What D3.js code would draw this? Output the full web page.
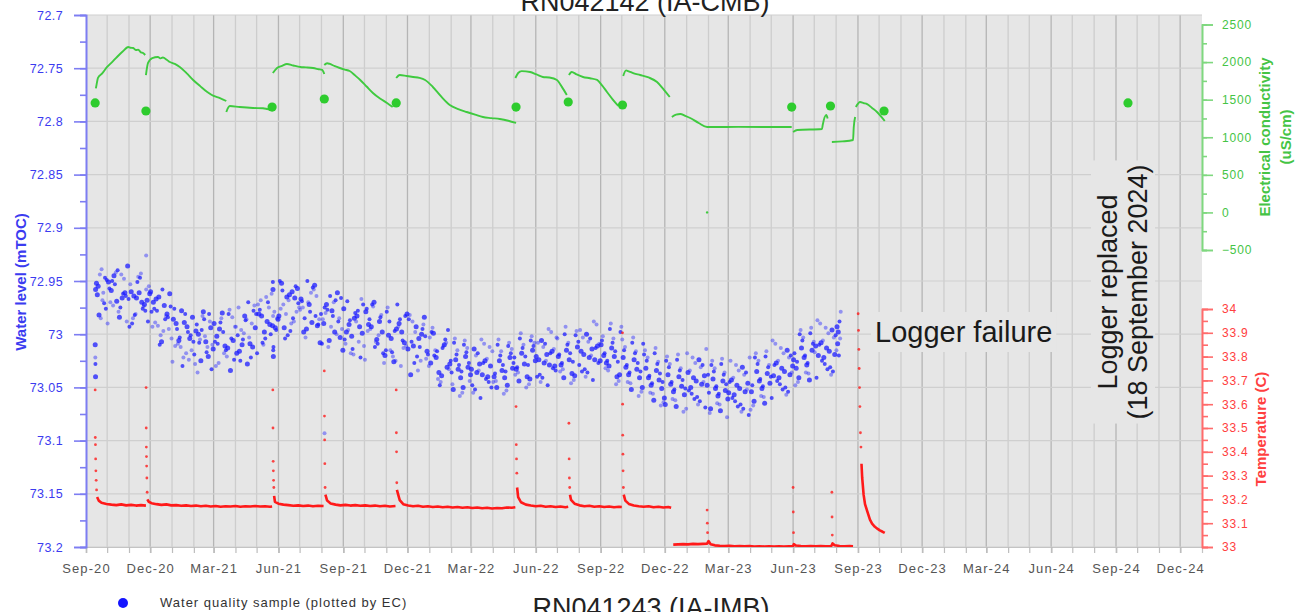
<!DOCTYPE html>
<html>
<head>
<meta charset="utf-8">
<script src="https://cdn.jsdelivr.net/npm/d3@7"></script>
<style>
  html, body { margin: 0; padding: 0; background: #ffffff; }
  svg { display: block; font-family: "Liberation Sans", Arial, Helvetica, sans-serif; }
</style>
</head>
<body>
<svg id="chart" width="1308" height="612"></svg>
<script>
// ---------------- Data ----------------
const xTickDates = ['2020-09','2020-12','2021-03','2021-06','2021-09','2021-12','2022-03','2022-06',
  '2022-09','2022-12','2023-03','2023-06','2023-09','2023-12','2024-03','2024-06','2024-09','2024-12'];
const levelTicks = [72.7, 72.75, 72.8, 72.85, 72.9, 72.95, 73, 73.05, 73.1, 73.15, 73.2];
const ecTicks = [-500, 0, 500, 1000, 1500, 2000, 2500];
const tempTicks = [33, 33.1, 33.2, 33.3, 33.4, 33.5, 33.6, 33.7, 33.8, 33.9, 34];

// Water level (mTOC), roughly daily logger readings grouped by month
const levelFirst = '2020-09-14';
const levelLast = '2023-08-08';
const levelMonths = ['2020-09','2020-10','2020-11','2020-12','2021-01','2021-02','2021-03','2021-04',
  '2021-05','2021-06','2021-07','2021-08','2021-09','2021-10','2021-11','2021-12','2022-01','2022-02',
  '2022-03','2022-04','2022-05','2022-06','2022-07','2022-08','2022-09','2022-10','2022-11','2022-12',
  '2023-01','2023-02','2023-03','2023-04','2023-05','2023-06','2023-07','2023-08'];
const levelReadings = [
  [72.958,72.944,72.971,72.952,72.985,72.947,72.963,72.939,72.976,72.955,72.968,72.949,72.982,72.961],
  [72.951,72.973,72.940,72.966,72.988,72.957,72.945,72.979,72.962,72.936,72.970,72.953,72.984,72.948,72.967,72.959,72.942,72.975,72.961,72.990,72.950,72.969,72.944,72.964],
  [72.960,72.981,72.947,72.972,72.955,72.990,72.966,72.943,72.978,72.962,72.985,72.951,72.970,72.958,72.993,72.964,72.946,72.976,72.968,72.953,72.982,72.961,72.974,72.988],
  [72.970,72.992,72.958,72.981,73.004,72.976,72.965,72.997,72.984,72.960,72.989,73.010,72.973,72.995,72.979,72.967,73.001,72.986,72.962,72.993,72.978,73.007,72.983,72.974],
  [72.990,73.012,72.981,73.004,73.026,72.995,72.978,73.018,73.001,72.986,73.009,73.030,72.993,73.015,72.976,73.006,73.022,72.998,72.984,73.011,73.003,72.989,73.024,73.007],
  [73.000,72.983,73.017,72.994,73.028,73.008,72.979,73.012,73.033,72.997,73.005,72.986,73.021,73.010,72.991,73.025,73.002,72.981,73.014,73.036,72.996,73.007,72.988,73.019],
  [72.995,73.018,72.981,73.006,73.030,72.989,73.011,72.977,73.024,73.002,72.985,73.015,73.034,72.993,73.009,72.980,73.021,73.004,72.990,73.027,72.998,73.013,72.984,73.007],
  [73.010,72.986,73.022,72.994,72.975,73.005,73.028,72.990,72.981,73.016,72.999,72.970,73.012,72.993,73.025,72.983,73.003,72.978,73.018,72.996,72.987,73.009,72.973,73.001],
  [72.998,72.975,73.012,72.986,72.968,73.004,72.991,72.979,73.018,72.983,72.965,73.000,72.994,72.972,73.008,72.988,72.962,72.996,72.981,73.010,72.970,72.992,72.985,72.977],
  [72.965,72.990,72.955,72.983,72.972,73.001,72.960,72.979,72.950,72.994,72.968,72.985,72.957,72.976,73.004,72.963,72.988,72.971,72.952,72.981,72.997,72.966,72.975,72.959],
  [72.972,72.958,72.991,72.967,73.003,72.979,72.954,72.986,72.969,72.995,72.961,72.983,73.008,72.975,72.950,72.989,72.964,72.981,72.998,72.970,72.956,72.992,72.977,72.985],
  [72.978,73.000,72.966,72.990,73.012,72.983,72.961,72.995,72.975,73.006,72.970,72.988,73.015,72.980,72.964,72.998,72.985,73.009,72.972,72.993,72.968,73.003,72.986,72.977],
  [72.985,73.007,72.972,72.998,73.018,72.980,72.993,73.011,72.969,73.002,72.988,73.022,72.976,72.996,73.014,72.983,72.967,73.005,72.991,73.019,72.978,72.999,73.009,72.987],
  [73.005,72.982,73.015,72.991,72.974,73.009,72.998,73.024,72.986,72.970,73.001,73.018,72.979,72.995,73.012,72.988,73.027,72.976,72.993,73.007,72.984,73.020,72.997,72.972],
  [72.990,73.013,72.979,73.004,73.025,72.986,73.008,72.975,73.017,72.995,73.030,72.983,73.001,73.021,72.972,72.998,73.011,72.988,73.026,72.993,73.006,72.981,73.015,72.997],
  [73.000,73.023,72.986,73.011,73.034,72.995,73.016,72.982,73.027,73.004,72.991,73.019,73.038,72.998,73.012,72.984,73.030,73.007,72.993,73.025,73.002,73.014,72.988,73.021],
  [73.010,73.033,72.998,73.022,73.045,73.005,73.028,72.994,73.016,73.039,73.008,73.025,72.999,73.042,73.013,73.031,73.003,73.020,73.036,73.011,72.996,73.027,73.015,73.048],
  [73.021,73.044,73.008,73.033,73.055,73.017,73.038,73.004,73.029,73.050,73.013,73.036,73.024,73.058,73.010,73.031,73.047,73.019,73.041,73.006,73.027,73.052,73.015,73.035],
  [73.040,73.016,73.052,73.028,73.009,73.045,73.033,73.020,73.060,73.025,73.012,73.048,73.036,73.005,73.042,73.030,73.055,73.018,73.038,73.023,73.050,73.014,73.034,73.027],
  [73.022,73.045,73.010,73.034,73.053,73.018,73.040,73.005,73.029,73.048,73.014,73.037,73.025,73.056,73.011,73.032,73.044,73.020,73.041,73.008,73.027,73.050,73.016,73.035],
  [73.015,73.038,73.004,73.028,73.047,73.011,73.033,72.999,73.021,73.042,73.008,73.031,73.018,73.050,73.006,73.025,73.036,73.013,73.040,73.002,73.022,73.044,73.010,73.029],
  [73.030,73.008,73.041,73.019,72.998,73.034,73.024,73.012,73.048,73.016,73.003,73.038,73.027,72.995,73.032,73.021,73.045,73.009,73.029,73.014,73.040,73.006,73.025,73.018],
  [73.012,73.035,73.000,73.024,73.043,73.007,73.029,72.993,73.018,73.039,73.004,73.027,73.015,73.046,73.001,73.021,73.033,73.010,73.037,72.997,73.019,73.041,73.008,73.026],
  [73.025,73.003,73.036,73.014,72.991,73.029,73.019,73.007,73.043,73.011,72.996,73.033,73.022,72.988,73.027,73.016,73.040,73.004,73.024,73.009,73.035,73.000,73.020,73.013],
  [73.010,73.032,72.995,73.021,73.044,73.006,73.027,72.990,73.016,73.038,73.002,73.025,73.013,73.047,72.998,73.020,73.034,73.008,73.040,72.993,73.018,73.030,73.004,73.026],
  [73.022,73.045,73.008,73.033,73.054,73.015,73.038,73.003,73.027,73.050,73.012,73.036,73.024,73.058,73.009,73.031,73.046,73.018,73.041,73.005,73.029,73.052,73.016,73.035],
  [73.032,73.055,73.018,73.043,73.064,73.025,73.048,73.013,73.037,73.060,73.022,73.046,73.034,73.067,73.019,73.041,73.056,73.028,73.051,73.015,73.039,73.062,73.026,73.045],
  [73.038,73.061,73.024,73.049,73.070,73.031,73.054,73.019,73.043,73.066,73.028,73.052,73.040,73.073,73.025,73.047,73.062,73.034,73.057,73.021,73.045,73.068,73.032,73.051],
  [73.050,73.027,73.063,73.039,73.018,73.056,73.044,73.031,73.069,73.036,73.022,73.059,73.047,73.014,73.053,73.041,73.066,73.029,73.048,73.034,73.061,73.024,73.045,73.038],
  [73.042,73.065,73.028,73.053,73.074,73.035,73.058,73.023,73.047,73.070,73.032,73.056,73.044,73.078,73.029,73.051,73.066,73.038,73.061,73.025,73.049,73.072,73.036,73.055],
  [73.057,73.034,73.070,73.046,73.025,73.063,73.051,73.038,73.076,73.043,73.029,73.066,73.054,73.022,73.060,73.048,73.073,73.036,73.055,73.041,73.068,73.031,73.052,73.045],
  [73.035,73.058,73.021,73.046,73.067,73.028,73.051,73.016,73.040,73.063,73.025,73.049,73.037,73.071,73.022,73.044,73.059,73.031,73.054,73.018,73.042,73.065,73.029,73.048],
  [73.041,73.018,73.054,73.030,73.009,73.047,73.035,73.022,73.060,73.027,73.013,73.050,73.038,73.006,73.044,73.032,73.057,73.020,73.039,73.025,73.052,73.015,73.036,73.029],
  [73.013,73.036,72.999,73.024,73.045,73.006,73.029,72.994,73.018,73.041,73.003,73.027,73.015,73.048,73.000,73.022,73.037,73.009,73.032,72.996,73.020,73.043,73.007,73.026],
  [73.022,72.999,73.035,73.011,72.990,73.028,73.016,73.003,73.041,73.008,72.994,73.031,73.019,72.987,73.025,73.013,73.038,73.001,73.020,73.006,73.033,72.996,73.017,73.010],
  [72.998,73.015,72.988,73.009,72.979,73.020,72.993,73.004]
];
// Readings taken while the logger was out of the bore for download
const levelSpikes = [
  ['2020-09-14T01:00',73.010],['2020-09-14T05:00',73.022],['2020-09-14T09:00',73.028],['2020-09-14T13:00',73.040],
  ['2020-11-25T08:00',72.926],
  ['2021-05-24T02:00',72.951],['2021-05-24T06:00',72.958],['2021-05-24T10:00',72.983],['2021-05-24T14:00',73.015],['2021-05-24T18:00',73.021],
  ['2021-08-05T08:00',73.093]
];

// Electrical conductivity (uS/cm), continuous logger record in deployment segments
const ecSegments = [
  [['2020-09-15',1650],['2020-09-16',1700],['2020-09-18',1790],['2020-09-24',1850],['2020-10-01',1935],['2020-10-08',2000],['2020-10-15',2068],['2020-10-23',2140],['2020-10-31',2201],['2020-11-03',2190],['2020-11-07',2187],['2020-11-11',2160],['2020-11-14',2165],['2020-11-18',2130],['2020-11-21',2120],['2020-11-24',2094]],
  [['2020-11-25',1828],['2020-11-28',1988],['2020-12-04',2054],['2020-12-12',2068],['2020-12-16',2050],['2020-12-19',2060],['2020-12-25',2028],['2020-12-29',2001],['2021-01-05',1975],['2021-01-12',1935],['2021-01-22',1850],['2021-01-31',1762],['2021-02-10',1680],['2021-02-20',1602],['2021-03-01',1550],['2021-03-10',1522],['2021-03-19',1482]],
  [['2021-03-19',1336],['2021-03-22',1400],['2021-03-24',1416],['2021-04-07',1402],['2021-04-26',1389],['2021-05-10',1385],['2021-05-16',1376],['2021-05-23',1363]],
  [['2021-05-24',1855],['2021-05-30',1921],['2021-06-06',1950],['2021-06-13',1975],['2021-06-22',1955],['2021-07-02',1935],['2021-07-10',1930],['2021-07-20',1921],['2021-07-28',1905],['2021-08-02',1895],['2021-08-05',1841]],
  [['2021-08-05',1961],['2021-08-09',1985],['2021-08-13',1975],['2021-08-20',1945],['2021-08-27',1921],['2021-09-03',1900],['2021-09-10',1881],['2021-09-18',1820],['2021-09-25',1762],['2021-10-04',1675],['2021-10-13',1589],['2021-10-23',1515],['2021-11-02',1456],['2021-11-10',1402]],
  [['2021-11-15',1788],['2021-11-20',1828],['2021-11-30',1815],['2021-12-09',1802],['2021-12-18',1790],['2021-12-26',1762],['2022-01-06',1669],['2022-01-18',1540],['2022-01-30',1429],['2022-02-11',1375],['2022-02-23',1336],['2022-03-07',1300],['2022-03-18',1269],['2022-03-30',1255],['2022-04-11',1243],['2022-04-23',1220],['2022-05-04',1190]],
  [['2022-05-03',1788],['2022-05-07',1855],['2022-05-12',1880],['2022-05-24',1868],['2022-06-02',1835],['2022-06-11',1802],['2022-06-20',1795],['2022-07-01',1762],['2022-07-08',1670],['2022-07-15',1562]],
  [['2022-07-18',1828],['2022-07-22',1868],['2022-07-29',1835],['2022-08-07',1802],['2022-08-17',1785],['2022-08-27',1762],['2022-09-03',1690],['2022-09-10',1602],['2022-09-18',1505],['2022-09-26',1416]],
  [['2022-10-03',1815],['2022-10-07',1890],['2022-10-10',1881],['2022-10-18',1850],['2022-10-27',1828],['2022-11-08',1795],['2022-11-20',1735],['2022-11-29',1640],['2022-12-08',1535]],
  [['2022-12-11',1269],['2022-12-17',1300],['2022-12-23',1309],['2022-12-30',1285],['2023-01-06',1256],['2023-01-18',1190],['2023-01-30',1136],['2023-03-15',1138],['2023-05-30',1136]],
  [['2023-06-01',1070],['2023-06-07',1096],['2023-07-12',1110],['2023-07-13',1163],['2023-07-18',1296],['2023-07-20',1250]],
  [['2023-07-26',937],['2023-08-10',945],['2023-08-25',963],['2023-08-26',1130],['2023-08-28',1270]],
  [['2023-08-29',1402],['2023-09-04',1469],['2023-09-09',1455],['2023-09-14',1442],['2023-09-21',1390],['2023-09-28',1336],['2023-10-09',1216]]
];
const ecStray = [['2023-01-30',0]];

// Water quality samples (plotted by EC)
const sampleDates = ['2020-09-14','2020-11-25','2021-05-23','2021-08-05','2021-11-15','2022-05-04',
  '2022-07-17','2022-10-02','2023-05-30','2023-07-24','2023-10-08','2024-09-18'];
const sampleEC = [1456, 1349, 1402, 1509, 1456, 1402, 1469, 1429, 1402, 1416, 1349, 1456];

// Temperature (C): readings during logger retrieval (isolated points)
const tempSpikes = [
  ['2020-09-14T00:00',33.66],['2020-09-14T04:00',33.46],['2020-09-14T10:00',33.43],['2020-09-14T16:00',33.37],['2020-09-15T00:00',33.32],['2020-09-15T10:00',33.28],['2020-09-16T00:00',33.24],
  ['2020-11-25T06:00',33.67],['2020-11-25T10:00',33.50],['2020-11-25T14:00',33.42],['2020-11-25T18:00',33.38],['2020-11-26T00:00',33.34],['2020-11-26T08:00',33.29],['2020-11-26T18:00',33.23],
  ['2021-05-24T00:00',33.66],['2021-05-24T06:00',33.50],['2021-05-24T12:00',33.36],['2021-05-24T18:00',33.32],['2021-05-25T02:00',33.28],['2021-05-25T10:00',33.25],
  ['2021-08-05T00:00',33.74],['2021-08-05T06:00',33.55],['2021-08-05T12:00',33.45],['2021-08-05T18:00',33.35],['2021-08-06T04:00',33.25],
  ['2021-11-15T00:00',33.66],['2021-11-15T06:00',33.48],['2021-11-15T12:00',33.40],['2021-11-15T20:00',33.27],
  ['2022-05-04T00:00',33.59],['2022-05-04T08:00',33.43],['2022-05-04T16:00',33.37],['2022-05-05T02:00',33.31],
  ['2022-07-18T00:00',33.52],['2022-07-18T08:00',33.37],['2022-07-18T16:00',33.29],['2022-07-19T02:00',33.25],
  ['2022-10-02T00:00',33.90],['2022-10-02T04:00',33.60],['2022-10-02T08:00',33.47],['2022-10-02T14:00',33.39],['2022-10-02T20:00',33.32],['2022-10-03T06:00',33.25],
  ['2023-01-30T00:00',33.155],['2023-01-30T08:00',33.10],['2023-01-30T16:00',33.06],
  ['2023-06-01T00:00',33.25],['2023-06-01T06:00',33.147],['2023-06-01T14:00',33.06],
  ['2023-07-26T00:00',33.23],['2023-07-26T06:00',33.126],['2023-07-26T14:00',33.05],
  ['2023-09-01T06:00',33.98],['2023-09-01T18:00',33.91],['2023-09-02T06:00',33.83],['2023-09-02T18:00',33.75],['2023-09-03T06:00',33.67],['2023-09-03T18:00',33.59],['2023-09-04T12:00',33.48],['2023-09-05T06:00',33.42]
];
// Temperature (C): continuous record per deployment
const tempSegments = [
  [['2020-09-16T18:00',33.21],['2020-09-19',33.195],['2020-09-23',33.186],['2020-09-30',33.181],['2020-10-07',33.178],['2020-10-14',33.176],['2020-10-21',33.179],['2020-10-28',33.175],['2020-11-04',33.177],['2020-11-11',33.174],['2020-11-18',33.176],['2020-11-25',33.174]],
  [['2020-11-27',33.20],['2020-11-29',33.19],['2020-12-03',33.184],['2020-12-10',33.180],['2020-12-17',33.177],['2020-12-24',33.179],['2020-12-31',33.175],['2021-01-07',33.176],['2021-01-14',33.173],['2021-01-21',33.175],['2021-01-28',33.172],['2021-02-04',33.174],['2021-02-11',33.171],['2021-02-18',33.173],['2021-02-25',33.170],['2021-03-04',33.172],['2021-03-11',33.169],['2021-03-18',33.171],['2021-03-25',33.170],['2021-04-01',33.172],['2021-04-08',33.169],['2021-04-15',33.171],['2021-04-22',33.170],['2021-04-29',33.172],['2021-05-06',33.170],['2021-05-13',33.171],['2021-05-20',33.169],['2021-05-23',33.170]],
  [['2021-05-25T20:00',33.215],['2021-05-27',33.19],['2021-06-01',33.182],['2021-06-08',33.178],['2021-06-15',33.176],['2021-06-22',33.173],['2021-06-29',33.175],['2021-07-06',33.172],['2021-07-13',33.174],['2021-07-20',33.171],['2021-07-27',33.173],['2021-08-04',33.172]],
  [['2021-08-06T14:00',33.22],['2021-08-09',33.195],['2021-08-14',33.183],['2021-08-21',33.178],['2021-08-28',33.175],['2021-09-04',33.177],['2021-09-11',33.174],['2021-09-18',33.176],['2021-09-25',33.173],['2021-10-02',33.175],['2021-10-09',33.172],['2021-10-16',33.174],['2021-10-23',33.171],['2021-10-30',33.173],['2021-11-06',33.170],['2021-11-14',33.172]],
  [['2021-11-16',33.24],['2021-11-20',33.197],['2021-11-25',33.180],['2021-12-02',33.174],['2021-12-09',33.171],['2021-12-16',33.173],['2021-12-23',33.169],['2021-12-30',33.171],['2022-01-06',33.168],['2022-01-13',33.170],['2022-01-20',33.167],['2022-01-27',33.169],['2022-02-03',33.166],['2022-02-10',33.168],['2022-02-17',33.165],['2022-02-24',33.167],['2022-03-03',33.164],['2022-03-10',33.166],['2022-03-17',33.163],['2022-03-24',33.165],['2022-03-31',33.162],['2022-04-07',33.164],['2022-04-14',33.163],['2022-04-21',33.166],['2022-04-28',33.165],['2022-05-03',33.167]],
  [['2022-05-05T12:00',33.25],['2022-05-07',33.21],['2022-05-11',33.188],['2022-05-18',33.178],['2022-05-25',33.174],['2022-06-01',33.171],['2022-06-08',33.173],['2022-06-15',33.169],['2022-06-22',33.171],['2022-06-29',33.168],['2022-07-06',33.170],['2022-07-13',33.167],['2022-07-17',33.169]],
  [['2022-07-19T12:00',33.22],['2022-07-21',33.198],['2022-07-26',33.182],['2022-08-02',33.175],['2022-08-09',33.171],['2022-08-16',33.173],['2022-08-23',33.169],['2022-08-30',33.171],['2022-09-06',33.168],['2022-09-13',33.170],['2022-09-20',33.167],['2022-09-27',33.169],['2022-10-01',33.168]],
  [['2022-10-03T18:00',33.22],['2022-10-06',33.195],['2022-10-11',33.181],['2022-10-18',33.174],['2022-10-25',33.171],['2022-11-01',33.169],['2022-11-08',33.171],['2022-11-15',33.167],['2022-11-22',33.169],['2022-11-29',33.166],['2022-12-06',33.168],['2022-12-10',33.165]],
  [['2022-12-13',33.010],['2022-12-20',33.011],['2022-12-27',33.012],['2023-01-03',33.011],['2023-01-10',33.013],['2023-01-17',33.012],['2023-01-24',33.013],['2023-01-30',33.014],['2023-02-01',33.025],['2023-02-04',33.012],['2023-02-10',33.007],['2023-02-17',33.005],['2023-02-24',33.004],['2023-03-03',33.005],['2023-03-10',33.003],['2023-03-17',33.004],['2023-03-24',33.003],['2023-03-31',33.004],['2023-04-07',33.002],['2023-04-14',33.003],['2023-04-21',33.002],['2023-04-28',33.003],['2023-05-05',33.002],['2023-05-12',33.003],['2023-05-19',33.002],['2023-05-26',33.003],['2023-06-01',33.004],['2023-06-02',33.012],['2023-06-05',33.006],['2023-06-12',33.004],['2023-06-19',33.003],['2023-06-26',33.004],['2023-07-03',33.003],['2023-07-10',33.004],['2023-07-17',33.003],['2023-07-25',33.003],['2023-07-27',33.015],['2023-07-30',33.007],['2023-08-06',33.004],['2023-08-13',33.003],['2023-08-20',33.004],['2023-08-25',33.003]],
  [['2023-09-06',33.35],['2023-09-07',33.29],['2023-09-09',33.22],['2023-09-11',33.18],['2023-09-14',33.152],['2023-09-18',33.115],['2023-09-21',33.098],['2023-09-25',33.085],['2023-09-29',33.076],['2023-10-02',33.070],['2023-10-06',33.064],['2023-10-09',33.059]]
];

// ---------------- Layout & scales ----------------
const plot = { left: 86, right: 1202, top: 15, bottom: 547 };
const parseDate = s => d3.utcParse(s.length > 10 ? '%Y-%m-%dT%H:%M' : (s.length > 7 ? '%Y-%m-%d' : '%Y-%m'))(s);

const x = d3.scaleUtc()
  .domain([parseDate('2020-09-01'), parseDate('2025-01-01')])
  .range([plot.left, plot.right]);
const yLevel = d3.scaleLinear().domain([72.7, 73.2]).range([plot.top, plot.bottom]);
const yEC = d3.scaleLinear().domain([-500, 2500]).range([250, 24.5]);
const yTemp = d3.scaleLinear().domain([33, 34]).range([plot.bottom, 309]);

const C = {
  bg: '#e6e6e6', gridMinor: '#cdcdcd', gridMajor: '#b5b5b5', gridH: '#cfcfcf',
  blue: '#1c1cff', blueAxis: '#7d7df2', blueText: '#3b3bf0',
  green: '#3fca3f', greenDot: '#2ecc2e', greenText: '#45c445',
  red: '#ff1a1a', redText: '#ff4040', tick: '#555555'
};

const svg = d3.select('#chart');

// Plot background
svg.append('rect')
  .attr('x', plot.left).attr('y', plot.top)
  .attr('width', plot.right - plot.left).attr('height', plot.bottom - plot.top)
  .attr('fill', C.bg);

// Gridlines
const grid = svg.append('g');
const months = d3.utcMonth.range(d3.utcMonth.offset(x.domain()[0], 1), x.domain()[1]);
grid.selectAll('line.vm').data(months).join('line')
  .attr('x1', d => x(d)).attr('x2', d => x(d))
  .attr('y1', plot.top).attr('y2', plot.bottom)
  .attr('stroke', d => (d.getUTCMonth() % 3 === 2 ? C.gridMajor : C.gridMinor))
  .attr('stroke-width', 1.3);
grid.selectAll('line.h').data(levelTicks).join('line')
  .attr('x1', plot.left).attr('x2', plot.right)
  .attr('y1', d => yLevel(d)).attr('y2', d => yLevel(d))
  .attr('stroke', C.gridH).attr('stroke-width', 1.2);

// Annotations (boxes mask the gridlines behind the text)
const notes = svg.append('g');
const failText = notes.append('text')
  .attr('x', 875).attr('y', 342)
  .attr('font-size', 29).attr('fill', '#1a1a1a')
  .text('Logger failure');
{
  const b = failText.node().getBBox();
  notes.insert('rect', () => failText.node())
    .attr('x', b.x - 4).attr('y', b.y - 4)
    .attr('width', b.width + 8).attr('height', b.height + 8)
    .attr('fill', C.bg);
}

const replText = notes.append('text')
  .attr('transform', 'translate(1117,292) rotate(-90)')
  .attr('text-anchor', 'middle')
  .attr('font-size', 27).attr('fill', '#1a1a1a');
replText.append('tspan').attr('x', 0).attr('dy', 0).text('Logger replaced');
replText.append('tspan').attr('x', 0).attr('dy', 30).text('(18 September 2024)');
{
  const b = replText.node().getBBox();
  notes.insert('rect', () => replText.node())
    .attr('transform', 'translate(1117,292) rotate(-90)')
    .attr('x', b.x - 4).attr('y', b.y - 2)
    .attr('width', b.width + 8).attr('height', b.height + 4)
    .attr('fill', C.bg);
}

// Water level readings: each month's readings fill that month's days
const levelPoints = [];
const lvFirst = parseDate(levelFirst), lvLast = parseDate(levelLast);
levelMonths.forEach((m, i) => {
  const ms = parseDate(m), me = d3.utcMonth.offset(ms, 1);
  const a = Math.max(+ms, +lvFirst), b = Math.min(+me, +lvLast);
  const vals = levelReadings[i];
  const n = vals.length;
  vals.forEach((v, j) => {
    const slot = (j * 5 + i) % n;
    levelPoints.push({ t: new Date(a + (slot + 0.5) * (b - a) / n), v, k: j });
  });
});
levelSpikes.forEach(([d, v], j) => levelPoints.push({ t: parseDate(d), v, k: j }));

svg.append('g').selectAll('circle').data(levelPoints).join('circle')
  .attr('cx', d => x(d.t)).attr('cy', d => yLevel(d.v))
  .attr('r', d => (d.k % 3 === 0 ? 2.5 : 2.0))
  .attr('fill', C.blue).attr('fill-opacity', d => (d.k % 3 === 1 ? 0.42 : 0.75));

// Temperature
const tempG = svg.append('g');
const tempLine = d3.line().x(d => x(parseDate(d[0]))).y(d => yTemp(d[1]));
tempG.selectAll('path').data(tempSegments).join('path')
  .attr('d', tempLine)
  .attr('fill', 'none').attr('stroke', C.red).attr('stroke-width', 2.6)
  .attr('stroke-linejoin', 'round');
tempG.selectAll('circle').data(tempSpikes).join('circle')
  .attr('cx', d => x(parseDate(d[0]))).attr('cy', d => yTemp(d[1]))
  .attr('r', 1.4).attr('fill', C.red).attr('fill-opacity', 0.8);

// Electrical conductivity
const ecG = svg.append('g');
const ecLine = d3.line().x(d => x(parseDate(d[0]))).y(d => yEC(d[1])).curve(d3.curveMonotoneX);
ecG.selectAll('path').data(ecSegments).join('path')
  .attr('d', ecLine)
  .attr('fill', 'none').attr('stroke', C.green).attr('stroke-width', 1.9);
ecG.selectAll('circle.stray').data(ecStray).join('circle')
  .attr('cx', d => x(parseDate(d[0]))).attr('cy', d => yEC(d[1]))
  .attr('r', 1.2).attr('fill', C.green);

// Water quality samples
svg.append('g').selectAll('circle').data(sampleDates).join('circle')
  .attr('cx', d => x(parseDate(d))).attr('cy', (d, i) => yEC(sampleEC[i]))
  .attr('r', 4.6).attr('fill', C.greenDot);

// ---------------- Axes ----------------
function styleAxis(g, color, textColor, fontSize, spacing) {
  g.select('.domain').attr('stroke', color).attr('stroke-width', 1.6);
  g.selectAll('.tick line').attr('stroke', color).attr('stroke-width', 1.6);
  g.selectAll('.tick text').attr('fill', textColor).attr('font-size', fontSize)
    .attr('letter-spacing', spacing).attr('font-family', '"Liberation Sans", Arial, sans-serif');
}

// Bottom (date) axis: month ticks and quarterly labels
const xMinor = svg.append('g').attr('transform', `translate(0,${plot.bottom})`)
  .call(d3.axisBottom(x).tickValues(months).tickSize(6).tickFormat(''));
xMinor.select('.domain').attr('stroke', '#c4c4c4').attr('stroke-width', 1.2);
xMinor.selectAll('.tick line').attr('stroke', '#bdbdbd').attr('stroke-width', 1.2);
const xAxis = svg.append('g').attr('transform', `translate(0,${plot.bottom})`)
  .call(d3.axisBottom(x).tickValues(xTickDates.map(parseDate)).tickSize(6).tickPadding(11)
    .tickFormat(d3.utcFormat('%b-%y')));
xAxis.select('.domain').remove();
styleAxis(xAxis, '#bdbdbd', C.tick, 13, 1.1);

// Left (water level) axis
const levelMinor = d3.range(72.7, 73.2001, 0.025).map(v => +v.toFixed(3));
const yMinorAxis = svg.append('g').attr('transform', `translate(${plot.left},0)`)
  .call(d3.axisLeft(yLevel).tickValues(levelMinor).tickSize(6).tickFormat(''));
styleAxis(yMinorAxis, C.blueAxis, C.blueText, 12.5, 0.4);
const yAxis = svg.append('g').attr('transform', `translate(${plot.left},0)`)
  .call(d3.axisLeft(yLevel).tickValues(levelTicks).tickSize(12).tickPadding(11)
    .tickFormat(d => String(d)));
styleAxis(yAxis, C.blueAxis, C.blueText, 12.5, 0.4);

// Right (EC) axis
const ecMinor = d3.range(-500, 2501, 250);
const ecMinorAxis = svg.append('g').attr('transform', `translate(${plot.right},0)`)
  .call(d3.axisRight(yEC).tickValues(ecMinor).tickSize(5).tickFormat(''));
styleAxis(ecMinorAxis, '#7fd87f', C.greenText, 12, 0.8);
const ecAxis = svg.append('g').attr('transform', `translate(${plot.right},0)`)
  .call(d3.axisRight(yEC).tickValues(ecTicks).tickSize(11).tickPadding(9).tickFormat(d3.format('d')));
styleAxis(ecAxis, '#7fd87f', C.greenText, 12, 0.8);

// Right (temperature) axis
const tempMinor = d3.range(33, 34.001, 0.05).map(v => +v.toFixed(2));
const tempMinorAxis = svg.append('g').attr('transform', `translate(${plot.right},0)`)
  .call(d3.axisRight(yTemp).tickValues(tempMinor).tickSize(6).tickFormat(''));
styleAxis(tempMinorAxis, '#ff6b6b', C.redText, 12, 0.8);
const tempAxis = svg.append('g').attr('transform', `translate(${plot.right},0)`)
  .call(d3.axisRight(yTemp).tickValues(tempTicks).tickSize(11).tickPadding(9).tickFormat(d => String(d)));
styleAxis(tempAxis, '#ff6b6b', C.redText, 12, 0.8);

// Axis titles
svg.append('text')
  .attr('transform', 'translate(26,282) rotate(-90)')
  .attr('text-anchor', 'middle').attr('font-size', 15).attr('font-weight', 'bold')
  .attr('fill', C.blueText).text('Water level (mTOC)');
const ecTitle = svg.append('text')
  .attr('transform', 'translate(1270,137) rotate(-90)')
  .attr('text-anchor', 'middle').attr('font-size', 15).attr('font-weight', 'bold')
  .attr('fill', C.greenText);
ecTitle.append('tspan').attr('x', 0).attr('dy', 0).text('Electrical conductivity');
ecTitle.append('tspan').attr('x', 0).attr('dy', 21).text('(uS/cm)');
svg.append('text')
  .attr('transform', 'translate(1266,429) rotate(-90)')
  .attr('text-anchor', 'middle').attr('font-size', 15).attr('font-weight', 'bold')
  .attr('fill', C.redText).text('Temperature (C)');

// Titles (top and bottom, running off the page edges)
svg.append('text')
  .attr('x', 645).attr('y', 11).attr('text-anchor', 'middle')
  .attr('font-size', 27).attr('fill', '#222').text('RN042142 (IA-CMB)');
svg.append('text')
  .attr('x', 651).attr('y', 617).attr('text-anchor', 'middle')
  .attr('font-size', 27).attr('fill', '#222').text('RN041243 (IA-IMB)');

// Legend
const legend = svg.append('g');
legend.append('circle').attr('cx', 123).attr('cy', 603).attr('r', 5).attr('fill', '#1414ff');
legend.append('text').attr('x', 160).attr('y', 607)
  .attr('font-size', 13).attr('letter-spacing', 1).attr('fill', '#333')
  .text('Water quality sample (plotted by EC)');
</script>
</body>
</html>
